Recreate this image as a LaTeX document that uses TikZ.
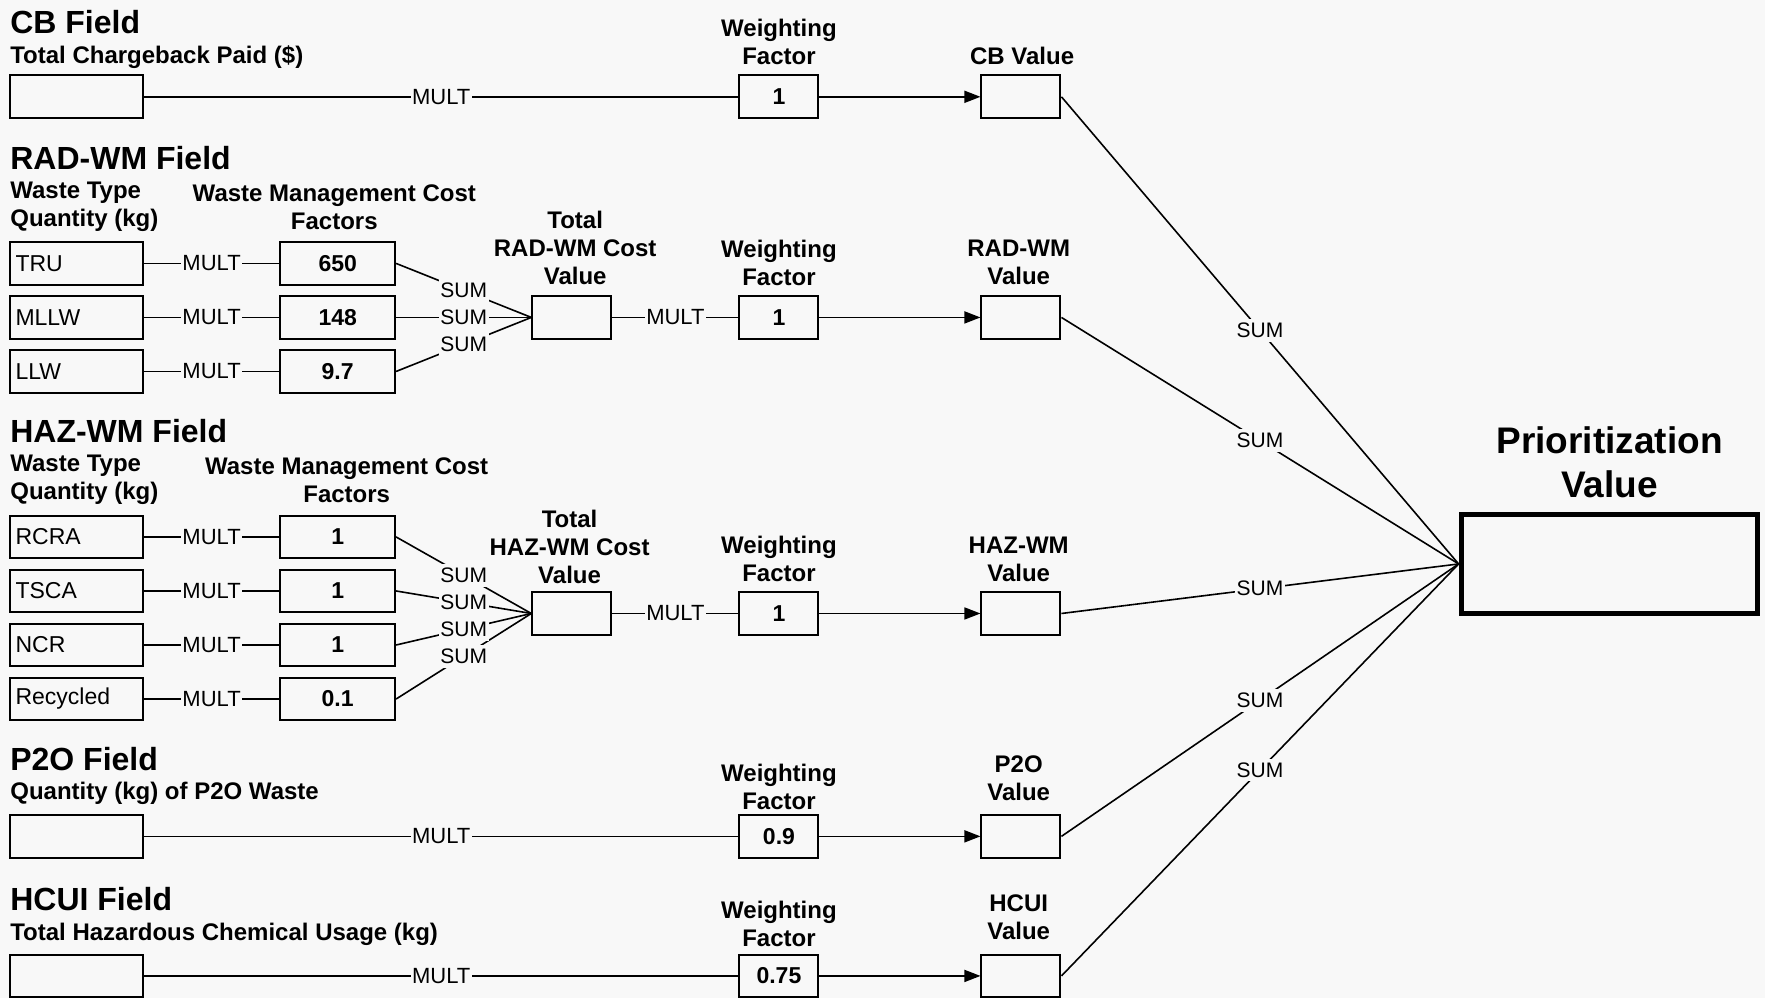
\documentclass[tikz,border=0pt]{standalone}
\usepackage{fontspec}
\setmainfont{Liberation Sans}
\usetikzlibrary{arrows.meta}
\definecolor{bg}{RGB}{248,248,248}
\tikzset{
 every node/.style={inner sep=0pt},
 lbl/.style={font=\fontsize{24pt}{28pt}\selectfont\bfseries, align=center},
 bigl/.style={font=\fontsize{37pt}{44pt}\selectfont\bfseries, align=center},
 ttl/.style={font=\fontsize{32pt}{36pt}\selectfont\bfseries, anchor=west},
 sub/.style={font=\fontsize{24pt}{28pt}\selectfont\bfseries, anchor=west, align=left},
 bx/.style={draw, line width=2pt, minimum height=42.8pt, font=\fontsize{23pt}{27pt}\selectfont},
 inbox/.style={bx, minimum width=132.8pt, text width=122pt, align=left, inner xsep=5.4pt},
 factorbox/.style={bx, minimum width=114.8pt, font=\fontsize{23pt}{27pt}\selectfont\bfseries},
 sbox/.style={bx, minimum width=79pt, font=\fontsize{23pt}{27pt}\selectfont\bfseries},
 pbox/.style={draw, line width=5pt, minimum width=296pt, minimum height=99pt},
 op/.style={fill=bg, inner xsep=1.5pt, inner ysep=3pt, font=\fontsize{22pt}{26pt}\selectfont},
 sm/.style={fill=bg, inner xsep=1.5pt, inner ysep=4pt, font=\fontsize{21pt}{25pt}\selectfont},
 ln/.style={line width=1.6pt},
 arr/.style={ln, -{Triangle[length=16pt,width=12pt]}},
}
\begin{document}
\begin{tikzpicture}[x=1.1257pt, y=-1.1257pt]
\fill[bg] (0,0) rectangle (1568,887);
\useasboundingbox (0,0) rectangle (1568,887);

% ---------- CB ----------
\node[ttl] (cbT) at (9,20) {CB Field};
\node[sub] (cbS) at (9,51) {Total Chargeback Paid (\$)};
\node[inbox] (cbIn) at (68,86) {};
\node[sbox] (cbW) at (692,86) {1};
\node[sbox] (cbV) at (907,86) {};
\node[lbl] (cbWL) at (692,37.5) {Weighting\\Factor};
\node[lbl] (cbVL) at (908,50) {CB Value};

% ---------- RAD-WM ----------
\node[ttl] (radTt) at (9,140) {RAD-WM Field};
\node[sub] (radS) at (9,184) {Waste Type\\Quantity (kg)};
\node[lbl] (radF) at (297,184) {Waste Management Cost\\Factors};
\node[inbox] (tru) at (68,234) {TRU};
\node[inbox] (mllw) at (68,282) {MLLW};
\node[inbox] (llw) at (68,330) {LLW};
\node[factorbox] (f650) at (300,234) {650};
\node[factorbox] (f148) at (300,282) {148};
\node[factorbox] (f97) at (300,330) {9.7};
\node[sbox] (radTot) at (508,282) {};
\node[lbl] (radTotL) at (511,220) {Total\\RAD-WM Cost\\Value};
\node[sbox] (radW) at (692,282) {1};
\node[lbl] (radWL) at (692,233.5) {Weighting\\Factor};
\node[sbox] (radV) at (907,282) {};
\node[lbl] (radVL) at (905,233.5) {RAD-WM\\Value};

% ---------- HAZ-WM ----------
\node[ttl] (hazTt) at (9,383) {HAZ-WM Field};
\node[sub] (hazS) at (9,426.5) {Waste Type\\Quantity (kg)};
\node[lbl] (hazF) at (308,426.5) {Waste Management Cost\\Factors};
\node[inbox] (rcra) at (68,477) {RCRA};
\node[inbox] (tsca) at (68,525) {TSCA};
\node[inbox] (ncr) at (68,573) {NCR};
\node[inbox] (recy) at (68,621) {Recycled};
\node[factorbox] (h1) at (300,477) {1};
\node[factorbox] (h2) at (300,525) {1};
\node[factorbox] (h3) at (300,573) {1};
\node[factorbox] (h4) at (300,621) {0.1};
\node[sbox] (hazTot) at (508,545) {};
\node[lbl] (hazTotL) at (506,486) {Total\\HAZ-WM Cost\\Value};
\node[sbox] (hazW) at (692,545) {1};
\node[lbl] (hazWL) at (692,496.5) {Weighting\\Factor};
\node[sbox] (hazV) at (907,545) {};
\node[lbl] (hazVL) at (905,496.5) {HAZ-WM\\Value};

% ---------- P2O ----------
\node[ttl] (p2oT) at (9,674) {P2O Field};
\node[sub] (p2oS) at (9,705) {Quantity (kg) of P2O Waste};
\node[inbox] (p2oIn) at (68,743) {};
\node[sbox] (p2oW) at (692,743) {0.9};
\node[lbl] (p2oWL) at (692,699.5) {Weighting\\Factor};
\node[sbox] (p2oV) at (907,743) {};
\node[lbl] (p2oVL) at (905,691.5) {P2O\\Value};

% ---------- HCUI ----------
\node[ttl] (hcT) at (9,799) {HCUI Field};
\node[sub] (hcS) at (9,830) {Total Hazardous Chemical Usage (kg)};
\node[inbox] (hcIn) at (68,867) {};
\node[sbox] (hcW) at (692,867) {0.75};
\node[lbl] (hcWL) at (692,820.5) {Weighting\\Factor};
\node[sbox] (hcV) at (907,867) {};
\node[lbl] (hcVL) at (905,814.5) {HCUI\\Value};

% ---------- Prioritization ----------
\node[pbox] (pv) at (1429.5,501) {};
\node[bigl] (pvL) at (1430,410.5) {Prioritization\\Value};

% ---------- connectors ----------
\draw[ln] (cbIn) -- node[op]{MULT} (cbW);
\draw[arr] (cbW) -- (cbV);

\draw[ln] (tru) -- node[op]{MULT} (f650);
\draw[ln] (mllw) -- node[op]{MULT} (f148);
\draw[ln] (llw) -- node[op]{MULT} (f97);
\draw[ln] (f650.east) -- (radTot.west);
\draw[ln] (f148.east) -- (radTot.west);
\draw[ln] (f97.east) -- (radTot.west);
\path (f650.east) -- node[sm]{SUM} (radTot.west);
\path (f148.east) -- node[sm]{SUM} (radTot.west);
\path (f97.east) -- node[sm]{SUM} (radTot.west);
\draw[ln] (radTot) -- node[op]{MULT} (radW);
\draw[arr] (radW) -- (radV);

\draw[ln] (rcra) -- node[op]{MULT} (h1);
\draw[ln] (tsca) -- node[op]{MULT} (h2);
\draw[ln] (ncr) -- node[op]{MULT} (h3);
\draw[ln] (recy) -- node[op]{MULT} (h4);
\draw[ln] (h1.east) -- (hazTot.west);
\draw[ln] (h2.east) -- (hazTot.west);
\draw[ln] (h3.east) -- (hazTot.west);
\draw[ln] (h4.east) -- (hazTot.west);
\path (h1.east) -- node[sm]{SUM} (hazTot.west);
\path (h2.east) -- node[sm]{SUM} (hazTot.west);
\path (h3.east) -- node[sm]{SUM} (hazTot.west);
\path (h4.east) -- node[sm]{SUM} (hazTot.west);
\draw[ln] (hazTot) -- node[op]{MULT} (hazW);
\draw[arr] (hazW) -- (hazV);

\draw[ln] (p2oIn) -- node[op]{MULT} (p2oW);
\draw[arr] (p2oW) -- (p2oV);
\draw[ln] (hcIn) -- node[op]{MULT} (hcW);
\draw[arr] (hcW) -- (hcV);

\draw[ln] (cbV.east) -- (pv.west);
\draw[ln] (radV.east) -- (pv.west);
\draw[ln] (hazV.east) -- (pv.west);
\draw[ln] (p2oV.east) -- (pv.west);
\draw[ln] (hcV.east) -- (pv.west);
\path (cbV.east) -- node[sm]{SUM} (pv.west);
\path (radV.east) -- node[sm]{SUM} (pv.west);
\path (hazV.east) -- node[sm]{SUM} (pv.west);
\path (p2oV.east) -- node[sm]{SUM} (pv.west);
\path (hcV.east) -- node[sm]{SUM} (pv.west);
\end{tikzpicture}
\end{document}
